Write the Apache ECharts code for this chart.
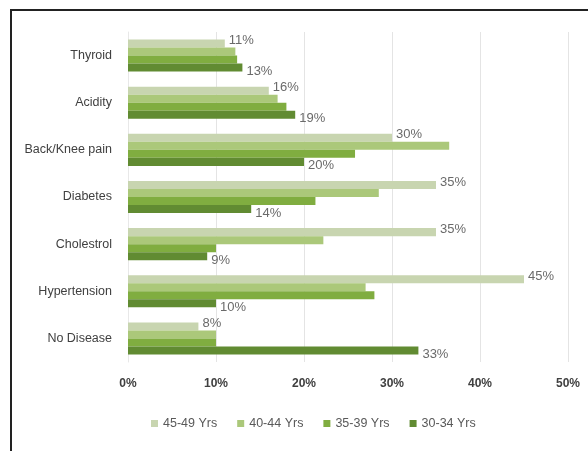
<!DOCTYPE html>
<html>
<head>
<meta charset="utf-8">
<script src="https://cdn.jsdelivr.net/npm/echarts@6/dist/echarts.min.js"></script>
<style>
html,body{margin:0;padding:0;background:#fff;}
#frame{position:absolute;left:10px;top:9px;width:578px;height:442px;border-left:2px solid #222;border-top:2px solid #222;box-sizing:border-box;}
#chart{position:absolute;left:0;top:0;width:588px;height:451px;}
</style>
</head>
<body>
<div id="frame"></div>
<div id="chart"></div>
<script>
var categories = ['Thyroid', 'Acidity', 'Back/Knee pain', 'Diabetes', 'Cholestrol', 'Hypertension', 'No Disease'];
var seriesNames = ['45-49 Yrs', '40-44 Yrs', '35-39 Yrs', '30-34 Yrs'];
var v4549 = [11, 16, 30, 35, 35, 45, 8];
var v4044 = [12.2, 17, 36.5, 28.5, 22.2, 27, 10];
var v3539 = [12.4, 18, 25.8, 21.3, 10, 28, 10];
var v3034 = [13, 19, 20, 14, 9, 10, 33];
var xTicks = [0, 10, 20, 30, 40, 50];

var colors = ['#c8d5b0', '#abc87a', '#80ad40', '#618b32'];
var font = "'Liberation Sans',sans-serif";
var chart = echarts.init(document.getElementById('chart'));
function lbl(show, offY) {
  return {show: show, position: 'right', distance: 4, offset: [0, offY],
    formatter: function(p){ return Math.round(p.value) + '%'; },
    color: '#6a6a6a', fontFamily: font, fontSize: 13};
}
var data = [v4549, v4044, v3539, v3034];
var series = seriesNames.map(function(n, i){
  return {
    name: n, type: 'bar', data: data[i],
    barGap: '0%', barCategoryGap: '32%',
    itemStyle: {color: colors[i]},
    label: lbl(i === 0 || i === 3, i === 0 ? -3 : 4),
    silent: true
  };
});
chart.setOption({
  animation: false,
  color: colors,
  grid: {left: 128, right: 20, top: 32, bottom: 89, containLabel: false},
  xAxis: {
    type: 'value', min: xTicks[0], max: xTicks[xTicks.length-1], interval: 10,
    axisLabel: {formatter: '{value}%', color: '#404040', fontFamily: font, fontSize: 12, fontWeight: 'bold', margin: 16},
    splitLine: {lineStyle: {color: '#e4e4e4', width: 1}},
    axisLine: {show: false}, axisTick: {show: false}
  },
  yAxis: {
    type: 'category', data: categories, inverse: true,
    axisLabel: {color: '#404040', fontFamily: font, fontSize: 12.5, margin: 16},
    axisLine: {show: true, lineStyle: {color: '#e8e8e8'}}, axisTick: {show: false}
  },
  legend: {
    data: seriesNames, bottom: 16, left: 146,
    itemWidth: 7, itemHeight: 7, itemGap: 20, icon: 'rect',
    textStyle: {color: '#595959', fontFamily: font, fontSize: 12.5}
  },
  series: series
});
</script>
</body>
</html>
